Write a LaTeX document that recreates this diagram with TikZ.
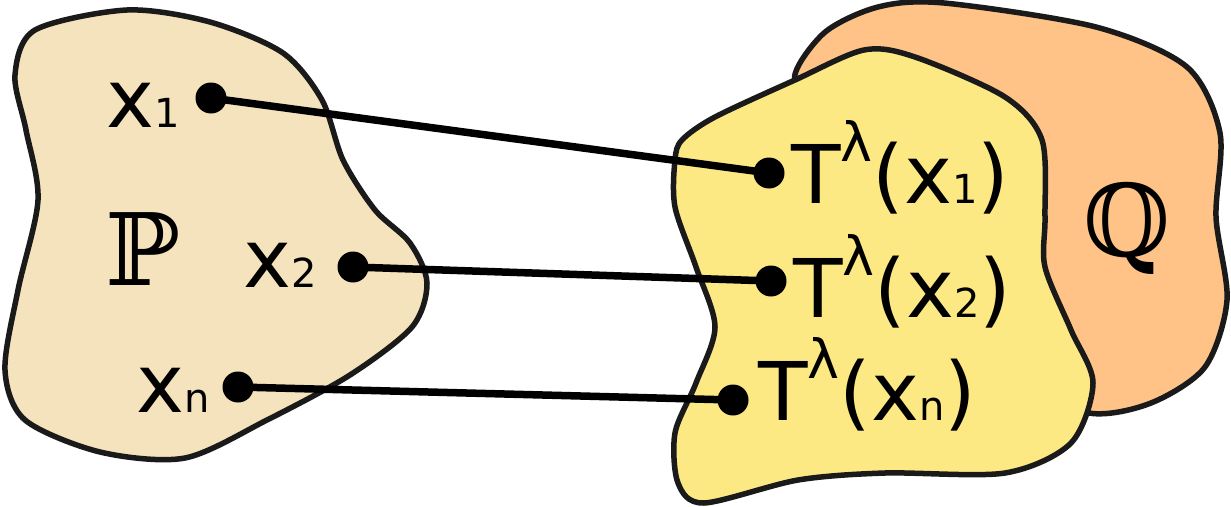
\documentclass[tikz,border=0pt]{standalone}
\usepackage{fontspec}
\setmainfont{DejaVu Sans}
\newfontfamily\bbfont{DejaVu Serif}
\definecolor{pfill}{HTML}{F4E3BC}
\definecolor{yfill}{HTML}{FDE984}
\definecolor{ofill}{HTML}{FFC388}
\definecolor{edge}{HTML}{1A1A1A}
\newcommand{\bigf}{\fontsize{81}{90}\selectfont}
\newcommand{\smf}[1]{{\fontsize{40}{44}\selectfont #1}}
\newcommand{\lam}{\raisebox{42pt}{\fontsize{54}{56}\selectfont λ}}
\tikzset{
  blob/.style={draw=edge, line width=5.5pt, line join=round},
  dot/.style={circle, fill=black, inner sep=0pt, minimum size=31pt},
  conn/.style={line width=7.5pt, black},
  lbl/.style={anchor=base west, inner sep=0pt, font=\bigf},
}
\begin{document}
\begin{tikzpicture}[x=1pt,y=-1pt]
\useasboundingbox (0,0) rectangle (1231,506);
% orange back blob
\filldraw[blob, fill=ofill] plot[smooth cycle] coordinates {
 (795,80) (824,33) (878,7) (944,3) (1096,27) (1187,67) (1220,133) (1216,217)
 (1227,300) (1205,367) (1151,403) (1089,413) (1020,380) (950,200) (850,100)};
% yellow front blob
\filldraw[blob, fill=yfill] plot[smooth cycle] coordinates {
 (682,140) (715,117) (795,80) (864,50) (915,57) (1005,97) (1042,140) (1045,217)
 (1045,267) (1071,330) (1093,383) (1071,443) (1005,473) (885,473) (798,480)
 (704,503) (678,483) (675,433) (696,383) (715,327) (696,267) (675,207) (675,160)};
% P blob
\filldraw[blob, fill=pfill] plot[smooth cycle] coordinates {
 (15,75) (35,30) (127,10) (210,22) (283,53) (322,100) (343,160) (375,210)
 (410,243) (427,283) (412,327) (350,375) (267,420) (185,458) (100,452)
 (25,420) (5,370) (18,290) (38,200) (26,130)};
% labels
\node[anchor=center, inner sep=0pt] (P) at (143,249) {\bbfont\fontsize{100}{110}\selectfont ℙ};
\node[anchor=center, inner sep=0pt] (Q) at (1127,228) {\bbfont\fontsize{100}{110}\selectfont ℚ};
\node[lbl] (lx1) at (106,127) {x\smf{1}};
\node[lbl] (lx2) at (243,287) {x\smf{2}};
\node[lbl] (lxn) at (136,412) {x\smf{n}};
\node[lbl] (lt1) at (791,203) {T\lam(x\smf{1})};
\node[lbl] (lt2) at (793,317) {T\lam(x\smf{2})};
\node[lbl] (ltn) at (758,420) {T\lam(x\smf{n})};
% dots
\node[dot] (d1) at (211,98) {};
\node[dot] (d2) at (353,267) {};
\node[dot] (dn) at (238,387) {};
\node[dot] (e1) at (769,173) {};
\node[dot] (e2) at (771,281) {};
\node[dot] (en) at (733,400) {};
% connectors
\draw[conn] (d1.center) -- (e1.center);
\draw[conn] (d2.center) -- (e2.center);
\draw[conn] (dn.center) -- (en.center);
\end{tikzpicture}
\end{document}
